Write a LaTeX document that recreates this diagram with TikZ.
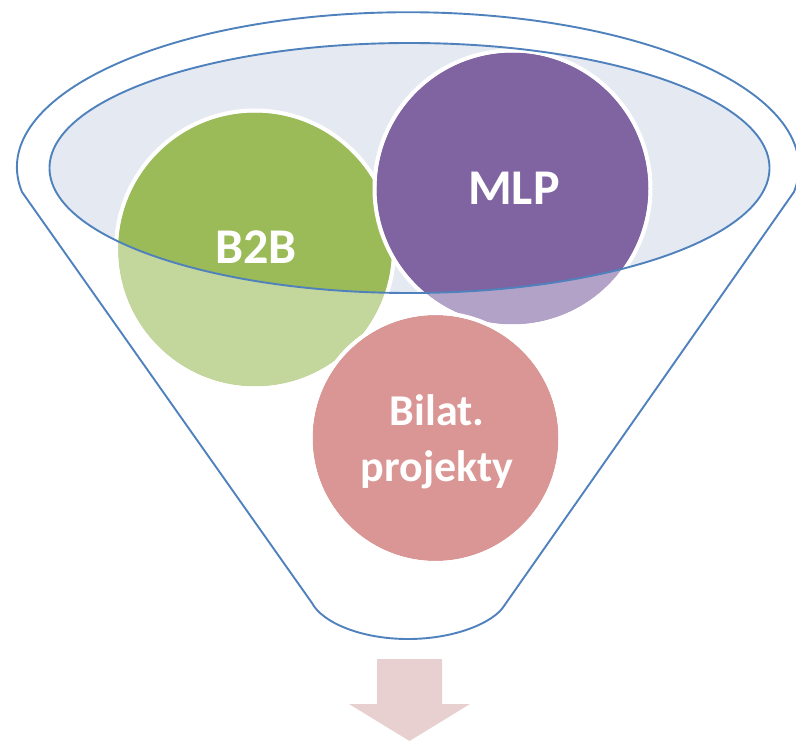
\documentclass[tikz,border=0pt]{standalone}
\usepackage{fontspec}
\setmainfont{Carlito}
\definecolor{funnelblue}{HTML}{4F81BD}
\definecolor{ellfill}{HTML}{E4E9F2}
\definecolor{greenD}{HTML}{9BBB59}
\definecolor{greenL}{HTML}{C3D69B}
\definecolor{purpleD}{HTML}{8064A2}
\definecolor{purpleL}{HTML}{B3A2C7}
\definecolor{pinkL}{HTML}{D99694}
\definecolor{arrowfill}{HTML}{E8D0D0}
\begin{document}
\begin{tikzpicture}[x=1pt,y=-1pt,
  outline/.style={draw=funnelblue, line width=1.9pt},
  lbl/.style={text=white, font=\bfseries\fontsize{50}{60}\selectfont, inner sep=0pt},
  lblsmall/.style={text=white, font=\bfseries\fontsize{44}{56}\selectfont, inner sep=0pt, align=center},
  ring/.style={draw=white, line width=4pt}]
\useasboundingbox (0,0) rectangle (796,741);
\coordinate (cB) at (255,249.5);
\coordinate (cM) at (512.5,188.5);
\coordinate (cP) at (435.5,438);
\coordinate (cE) at (409.5,168);
\coordinate (fl) at (22,192);
\coordinate (fr) at (504,606);
\coordinate (fb) at (408,639);
\coordinate (fbl) at (312,603);
% outer funnel
\draw[outline, line join=round] (fl) arc[start angle=189.2, end angle=-9.2, x radius=391pt, y radius=155pt]
  -- (fr) .. controls (494,622) and (456,639) .. (fb)
  .. controls (360,639) and (322,622) .. (fbl) -- cycle;
% inner ellipse fill
\fill[ellfill] (cE) ellipse[x radius=360pt, y radius=125pt];
% B2B circle
\fill[greenL] (cB) circle[radius=137pt];
\begin{scope}
  \clip (cE) ellipse[x radius=360pt, y radius=125pt];
  \fill[greenD] (cB) circle[radius=137pt];
\end{scope}
\draw[ring] (cB) circle[radius=139pt];
% MLP circle
\fill[purpleL] (cM) circle[radius=136pt];
\begin{scope}
  \clip (cE) ellipse[x radius=360pt, y radius=125pt];
  \fill[purpleD] (cM) circle[radius=136pt];
\end{scope}
\draw[ring] (cM) circle[radius=138pt];
% Pink circle
\fill[pinkL] (cP) circle[radius=123pt];
\draw[ring] (cP) circle[radius=125pt];
% ellipse outline
\draw[outline] (cE) ellipse[x radius=360pt, y radius=125pt];
% labels
\node[lbl] (b2b) at (256,247.5) {B2B};
\node[lbl] (mlp) at (514,188) {MLP};
\node[lblsmall] (bilat) at (437,442) {Bilat.\\projekty};
% arrow
\fill[arrowfill] (377,659) -- (442,659) -- (442,704) -- (470,704) -- (409.5,741) -- (349,704) -- (377,704) -- cycle;
\end{tikzpicture}
\end{document}
